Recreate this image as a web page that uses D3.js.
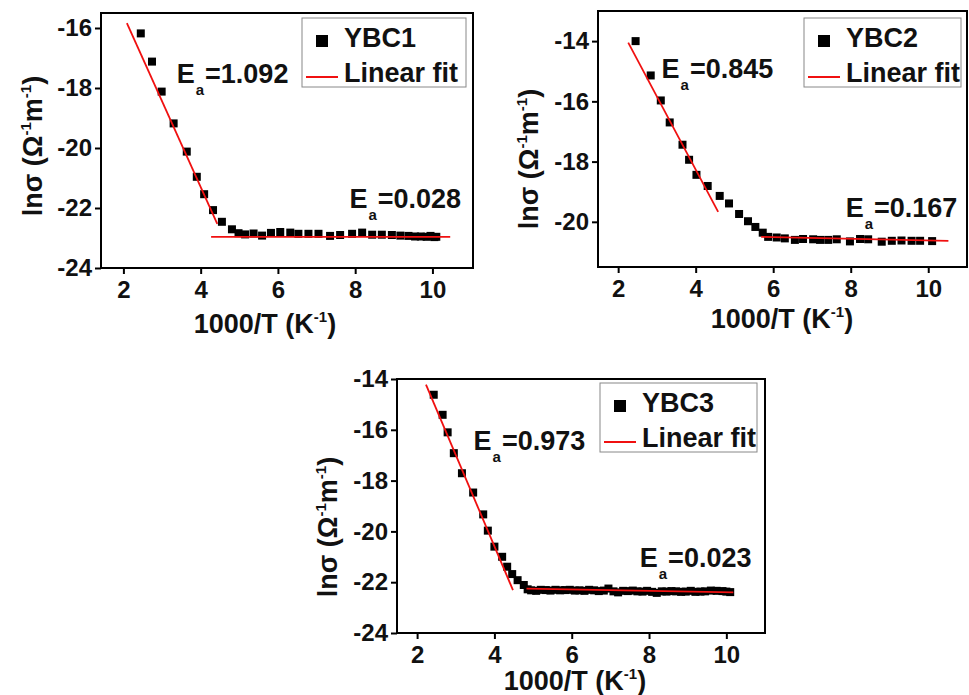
<!DOCTYPE html>
<html><head><meta charset="utf-8">
<script src="https://cdn.jsdelivr.net/npm/d3@7"></script>
<style>
body{margin:0;background:#fff}
svg{display:block}
text{font-family:"Liberation Sans",Arial,sans-serif;font-weight:bold;fill:#111}
</style>
</head><body>
<svg id="c" width="969" height="695"></svg>
<script>
// ---------- data ----------
const xTicks = [2, 4, 6, 8, 10];
const yTicks1 = [-24, -22, -20, -18, -16];
const yTicks2 = [-20, -18, -16, -14];
const yTicks3 = [-24, -22, -20, -18, -16, -14];

const ybc1X = [2.45,2.74,2.99,3.30,3.64,3.90,4.09,4.32,4.55,4.81,4.98,5.15,5.37,5.59,5.82,6.06,6.32,6.53,6.79,7.05,7.35,7.61,7.92,8.18,8.44,8.69,8.95,9.17,9.38,9.55,9.70,9.85,9.95,10.05,10.10];
const ybc1Y = [-16.18,-17.12,-18.12,-19.18,-20.12,-20.96,-21.54,-22.07,-22.46,-22.71,-22.84,-22.88,-22.85,-22.92,-22.83,-22.80,-22.82,-22.86,-22.86,-22.86,-22.93,-22.90,-22.86,-22.82,-22.89,-22.89,-22.90,-22.92,-22.93,-22.95,-22.95,-22.96,-22.93,-22.97,-22.96];
const ybc1FitLowX = [2.09, 4.43], ybc1FitLowY = [-15.84, -22.53];
const ybc1FitHighX = [4.27, 10.46], ybc1FitHighY = [-22.96, -22.96];
const ybc1Ea = ["1.092", "0.028"];

const ybc2X = [2.45,2.84,3.10,3.33,3.66,3.83,4.02,4.31,4.62,4.86,5.12,5.35,5.54,5.73,5.87,6.09,6.30,6.56,6.77,7.03,7.21,7.42,7.64,7.98,8.24,8.45,8.80,9.06,9.31,9.57,9.79,10.10];
const ybc2Y = [-14.00,-15.14,-15.97,-16.70,-17.44,-17.94,-18.44,-18.81,-19.14,-19.39,-19.74,-19.98,-20.17,-20.36,-20.50,-20.52,-20.55,-20.60,-20.57,-20.58,-20.60,-20.60,-20.58,-20.65,-20.57,-20.58,-20.66,-20.63,-20.62,-20.63,-20.63,-20.64];
const ybc2FitLowX = [2.26, 4.58], ybc2FitLowY = [-14.05, -19.67];
const ybc2FitHighX = [5.69, 10.52], ybc2FitHighY = [-20.50, -20.63];
const ybc2Ea = ["0.845", "0.167"];

const ybc3X = [2.43,2.66,2.79,2.95,3.16,3.45,3.71,3.83,4.00,4.20,4.33,4.46,4.60,4.76,4.86,4.95,5.08,5.20,5.33,5.45,5.58,5.70,5.83,5.95,6.08,6.20,6.33,6.45,6.58,6.70,6.83,6.95,7.08,7.20,7.33,7.45,7.58,7.70,7.83,7.95,8.08,8.20,8.33,8.45,8.58,8.70,8.83,8.95,9.08,9.20,9.33,9.45,9.60,9.75,9.90,10.00,10.10];
const ybc3Y = [-14.62,-15.41,-16.10,-16.92,-17.71,-18.47,-19.33,-19.97,-20.60,-21.00,-21.39,-21.68,-21.92,-22.11,-22.28,-22.32,-22.34,-22.30,-22.31,-22.33,-22.30,-22.32,-22.31,-22.30,-22.33,-22.32,-22.34,-22.30,-22.32,-22.35,-22.33,-22.25,-22.36,-22.40,-22.34,-22.35,-22.33,-22.36,-22.37,-22.34,-22.38,-22.42,-22.36,-22.37,-22.35,-22.36,-22.38,-22.37,-22.34,-22.38,-22.37,-22.36,-22.33,-22.34,-22.35,-22.37,-22.39];
const ybc3FitLowX = [2.23, 4.48], ybc3FitLowY = [-14.22, -22.31];
const ybc3FitHighX = [4.83, 10.18], ybc3FitHighY = [-22.25, -22.40];
const ybc3Ea = ["0.973", "0.023"];

// ---------- layout ----------
const panels = [
  {name:"YBC1", xs:ybc1X, ys:ybc1Y,
   fits:[[ybc1FitLowX,ybc1FitLowY],[ybc1FitHighX,ybc1FitHighY]],
   ea:ybc1Ea, eaPos:[[3.38,-17.82],[7.85,-22.01]],
   xDom:[1.42,11.05], yDom:[-24,-15.5], yTicks:yTicks1,
   box:{l:101,t:13,r:473,b:268}, leg:{gapR:7,gapT:5,w:164},
   xTitle:{cx:265,dy:65}, yTitle:{x:42,y:146}},
  {name:"YBC2", xs:ybc2X, ys:ybc2Y,
   fits:[[ybc2FitLowX,ybc2FitLowY],[ybc2FitHighX,ybc2FitHighY]],
   ea:ybc2Ea, eaPos:[[3.12,-15.21],[7.87,-19.83]],
   xDom:[1.48,11.0], yDom:[-21.5,-13], yTicks:yTicks2,
   box:{l:598,t:11,r:967,b:267}, leg:{gapR:6,gapT:7,w:157},
   xTitle:{cx:782,dy:61}, yTitle:{x:538,y:159}},
  {name:"YBC3", xs:ybc3X, ys:ybc3Y,
   fits:[[ybc3FitLowX,ybc3FitLowY],[ybc3FitHighX,ybc3FitHighY]],
   ea:ybc3Ea, eaPos:[[3.46,-16.79],[7.76,-21.39]],
   xDom:[1.48,11.0], yDom:[-24,-14], yTicks:yTicks3,
   box:{l:397,t:379,r:765,b:633}, leg:{gapR:8,gapT:4,w:157},
   xTitle:{cx:575,dy:57}, yTitle:{x:337,y:527}}
];

const svg = d3.select("#c");
const FONT = '"Liberation Sans",Arial,sans-serif';

function sup(textSel, s, fs, dyUp, after) {
  textSel.append("tspan").attr("font-size", fs).attr("dy", -dyUp).text(s);
  textSel.append("tspan").attr("dy", dyUp).text(after);
}

panels.forEach(p => {
  const {l,t,r,b} = p.box;
  const g = svg.append("g");
  const x = d3.scaleLinear().domain(p.xDom).range([l, r]);
  const y = d3.scaleLinear().domain(p.yDom).range([b, t]);
  const fmt = v => String(v);

  // axes
  const ax = g.append("g").attr("transform", `translate(0,${b})`)
    .call(d3.axisBottom(x).tickValues(xTicks).tickFormat(fmt).tickSize(6).tickSizeOuter(0).tickPadding(7));
  const ay = g.append("g").attr("transform", `translate(${l},0)`)
    .call(d3.axisLeft(y).tickValues(p.yTicks).tickFormat(fmt).tickSize(6).tickSizeOuter(0).tickPadding(3));
  [ax, ay].forEach(a => {
    a.select(".domain").remove();
    a.selectAll(".tick line").attr("stroke", "#000").attr("stroke-width", 2);
    a.selectAll(".tick text").attr("font-size", 24).attr("font-family", null)
      .style("font-family", FONT).style("font-weight", "bold").attr("fill", "#111");
  });

  // frame
  g.append("rect").attr("x", l).attr("y", t).attr("width", r - l).attr("height", b - t)
    .attr("fill", "none").attr("stroke", "#000").attr("stroke-width", 2);

  // markers
  g.append("g").selectAll("rect").data(p.xs.map((v, i) => [v, p.ys[i]])).join("rect")
    .attr("x", d => x(d[0]) - 4).attr("y", d => y(d[1]) - 4)
    .attr("width", 8).attr("height", 8).attr("fill", "#000");

  // fit lines
  const line = d3.line().x(d => x(d[0])).y(d => y(d[1]));
  p.fits.forEach(f => {
    g.append("path").attr("d", line(f[0].map((v, i) => [v, f[1][i]])))
      .attr("fill", "none").attr("stroke", "#f01010").attr("stroke-width", 1.8);
  });

  // Ea annotations
  p.ea.forEach((val, i) => {
    const tx = g.append("text").attr("x", x(p.eaPos[i][0])).attr("y", y(p.eaPos[i][1]))
      .attr("font-size", 27);
    tx.append("tspan").text("E");
    tx.append("tspan").attr("font-size", 15).attr("dx", 1).attr("dy", 12).text("a");
    tx.append("tspan").attr("dx", 1).attr("dy", -12).text("=" + val);
  });

  // legend
  const lx = r - p.leg.gapR - p.leg.w, ly = t + p.leg.gapT;
  const lg = g.append("g").attr("transform", `translate(${lx},${ly})`);
  lg.append("rect").attr("width", p.leg.w).attr("height", 69)
    .attr("fill", "#fff").attr("stroke", "#888").attr("stroke-width", 1);
  lg.append("rect").attr("x", 14).attr("y", 17).attr("width", 12).attr("height", 12).attr("fill", "#000");
  lg.append("text").attr("x", 42).attr("y", 29).attr("font-size", 27).text(p.name);
  lg.append("line").attr("x1", 4).attr("x2", 36).attr("y1", 59).attr("y2", 59)
    .attr("stroke", "#f01010").attr("stroke-width", 2);
  lg.append("text").attr("x", 42).attr("y", 64).attr("font-size", 27).text("Linear fit");

  // x title
  const xt = g.append("text").attr("x", p.xTitle.cx).attr("y", b + p.xTitle.dy)
    .attr("text-anchor", "middle").attr("font-size", 27);
  xt.append("tspan").text("1000/T (K");
  sup(xt, "-1", 15, 11, ")");

  // y title
  const yt = g.append("text").attr("transform", `translate(${p.yTitle.x},${p.yTitle.y}) rotate(-90)`)
    .attr("text-anchor", "middle").attr("font-size", 27);
  yt.append("tspan").text("lnσ (Ω");
  sup(yt, "-1", 15, 11, "m");
  sup(yt, "-1", 15, 11, ")");
});
</script>
</body></html>
